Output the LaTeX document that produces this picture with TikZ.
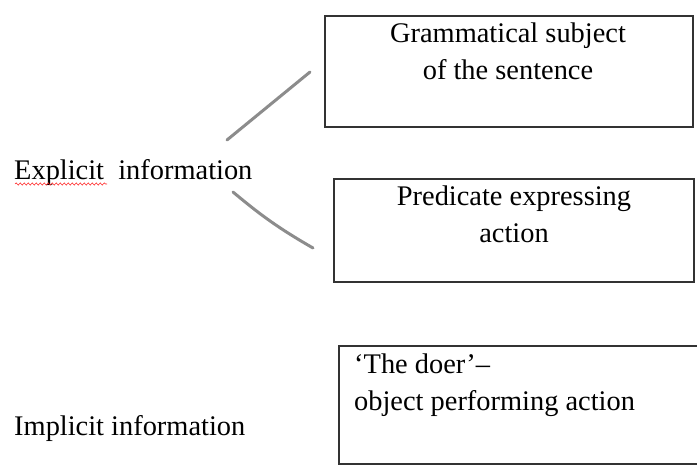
\documentclass[tikz,border=0pt]{standalone}
\usepackage{fontspec}
\setmainfont{Liberation Serif}
\usetikzlibrary{positioning,decorations.pathmorphing}

\begin{document}
\begin{tikzpicture}[x=1pt,y=-1pt]
    \tikzstyle{box}=[rectangle, draw=black!80, line width=1.5pt, anchor=north west]
    \tikzstyle{boxtext}=[font=\fontsize{28.4}{37}\selectfont, inner sep=0pt]
    \tikzstyle{side}=[font=\fontsize{28.4}{37}\selectfont, inner sep=0pt, anchor=base west]
    \tikzstyle{connect}=[line width=3pt, draw=black!45, line cap=round]

      \useasboundingbox (0,0) rectangle (697,466);
      \node[box, minimum width=368pt, minimum height=111pt] (subjbox) at (324,15) {};
      \node[box, minimum width=360pt, minimum height=103pt] (predbox) at (333,178) {};
      \node[box, minimum width=380pt, minimum height=118pt] (doerbox) at (338,345) {};
      \node[boxtext, align=center, anchor=base] (subj) at (508,79) {Grammatical subject\\of the sentence};
      \node[boxtext, align=center, anchor=base] (pred) at (514,242) {Predicate expressing\\action};
      \node[boxtext, align=left, anchor=base west] (doer) at (354,410) {`The doer'--\\object performing action};
      \node[side] (explicit) at (14,179) {Explicit~~information};
      \node[side] (implicit) at (14,435) {Implicit information};
      % free ends of the two strokes
      \coordinate (up1) at (227,140);
      \coordinate (up2) at (310,72);
      \coordinate (lo1) at (233,192);
      \coordinate (lo2) at (313,248);
      \draw[connect] (up1) -- (up2);
      \draw[connect] (lo1) to[bend right=5] (lo2);
      % spelling mark
      \draw[red!85, line width=0.6pt, decorate, decoration={snake, amplitude=1.1pt, segment length=4pt}] (explicit.base west) ++(1,5) -- ++(92,0);
    \end{tikzpicture}
\end{document}
